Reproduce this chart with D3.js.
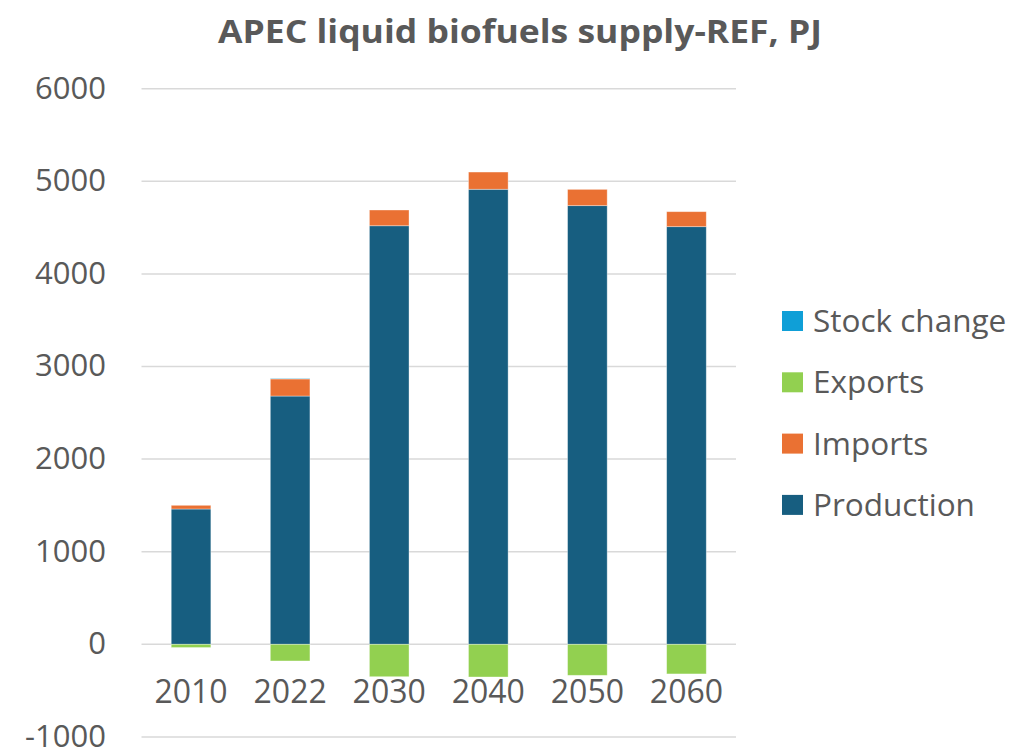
<!DOCTYPE html>
<meta charset="utf-8">
<style>
  body { margin: 0; background: #fff; }
  text { font-family: 'Open Sans', 'Noto Sans', sans-serif; fill: #595959; }
</style>
<body>
<div id="chart"></div>
<script src="https://d3js.org/d3.v7.min.js"></script>
<script>
// data (PJ)
var years = ["2010", "2022", "2030", "2040", "2050", "2060"];
var production = [1461, 2681, 4520, 4914, 4737, 4510];
var imports = [40, 185, 170, 186, 176, 162];
var exportsData = [-35, -180, -350, -353, -335, -320];
var stockChange = [0, 5, 0, 0, 0, 0];
var yTicks = [-1000, 0, 1000, 2000, 3000, 4000, 5000, 6000];

var seriesNames = ["Production", "Imports", "Exports", "Stock change"];
var colors = {
  "Production": "#175e80",
  "Imports": "#ea7133",
  "Exports": "#92d050",
  "Stock change": "#0f9fd7"
};
var legendOrder = ["Stock change", "Exports", "Imports", "Production"];

var rows = years.map(function(y, i) {
  return {
    year: y,
    "Production": production[i],
    "Imports": imports[i],
    "Exports": exportsData[i],
    "Stock change": stockChange[i]
  };
});

var W = 1035, H = 751;
var svg = d3.select("#chart").append("svg")
  .attr("width", W)
  .attr("height", H);

var x = d3.scaleBand()
  .domain(years)
  .range([141.5, 736])
  .paddingInner(0.6)
  .paddingOuter(0.3);

var y = d3.scaleLinear()
  .domain([-1000, 6000])
  .range([736.9, 88.7]);

// gridlines
svg.append("g")
  .selectAll("line")
  .data(yTicks)
  .enter().append("line")
    .attr("x1", 141.5)
    .attr("x2", 736)
    .attr("y1", function(d) { return y(d); })
    .attr("y2", function(d) { return y(d); })
    .attr("stroke", "#d9d9d9")
    .attr("stroke-width", 1.5);

// y axis labels
var yAxis = svg.append("g")
  .attr("transform", "translate(106,0)")
  .call(d3.axisLeft(y).tickValues(yTicks).tickSize(0).tickPadding(0)
    .tickFormat(function(d) { return String(d); }));
yAxis.select(".domain").remove();
yAxis.selectAll("text")
  .attr("dy", "0.3em")
  .style("font-size", "31px")
  .attr("fill", "#595959");

// stacked bars
var stack = d3.stack()
  .keys(seriesNames)
  .offset(d3.stackOffsetDiverging);
var stacked = stack(rows);

svg.append("g")
  .selectAll("g")
  .data(stacked)
  .enter().append("g")
    .attr("fill", function(d) { return colors[d.key]; })
  .selectAll("rect")
  .data(function(d) { return d; })
  .enter().append("rect")
    .attr("x", function(d) { return x(d.data.year); })
    .attr("width", x.bandwidth())
    .attr("y", function(d) { return y(Math.max(d[0], d[1])); })
    .attr("height", function(d) { return Math.abs(y(d[0]) - y(d[1])); })
    .attr("stroke", "rgba(255,255,255,0.45)")
    .attr("stroke-width", 0.8);

// x axis labels
var xAxis = svg.append("g")
  .attr("transform", "translate(0,703)")
  .call(d3.axisBottom(x).tickSize(0).tickPadding(0));
xAxis.select(".domain").remove();
xAxis.selectAll("text")
  .attr("dy", "0")
  .style("font-size", "32px")
  .attr("fill", "#595959");

// title
svg.append("text")
  .attr("x", 520)
  .attr("y", 43)
  .attr("text-anchor", "middle")
  .attr("textLength", 604)
  .attr("lengthAdjust", "spacingAndGlyphs")
  .style("font-size", "33px")
  .style("font-weight", "bold")
  .text("APEC liquid biofuels supply-REF, PJ");

// legend
var legend = svg.append("g")
  .selectAll("g")
  .data(legendOrder)
  .enter().append("g")
    .attr("transform", function(d, i) { return "translate(782," + (311 + i * 61.3) + ")"; });

legend.append("rect")
  .attr("width", 21)
  .attr("height", 20)
  .attr("fill", function(d) { return colors[d]; });

legend.append("text")
  .attr("x", 31)
  .attr("y", 10)
  .attr("dy", "0.35em")
  .style("font-size", "31.5px")
  .text(function(d) { return d; });
</script>
</body>
